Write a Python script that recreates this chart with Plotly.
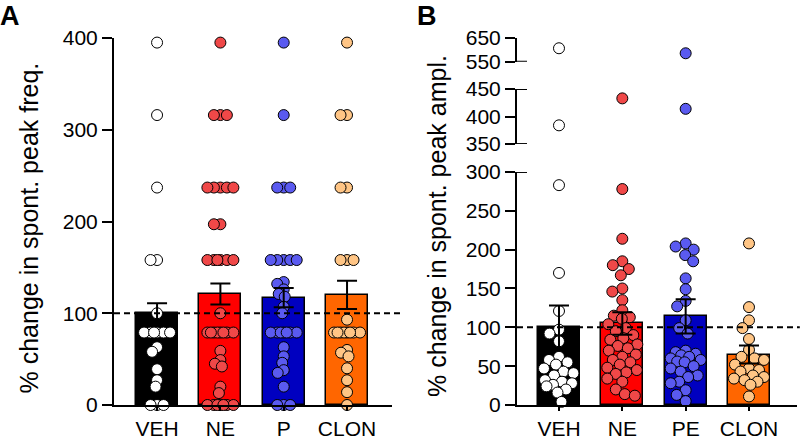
import numpy as np
import plotly.graph_objects as go

# ---------------- data ----------------
categories_A = ["VEH", "NE", "P", "CLON"]
categories_B = ["VEH", "NE", "PE", "CLON"]

# Panel A: % change in spontaneous peak frequency (individual cells)
veh_A = [395, 316, 237, 158, 158, 100, 79, 79, 79, 79, 79, 79, 63, 58, 39, 27, 20, 0, 0, 0]
ne_A = [395, 316, 316, 316, 237, 237, 237, 237, 237, 197, 197,
        158, 158, 158, 158, 158, 158, 100, 79, 79, 79, 79, 79, 79, 79, 79,
        59, 49, 45, 42, 20, 13, 0, 0, 0, 0, 0, 0, 0]
p_A = [395, 316, 237, 237, 237, 158, 158, 158, 158, 158, 134, 132, 126, 121, 118,
       107, 100, 79, 79, 79, 79, 79, 79, 79, 63, 53, 46, 38, 35, 20, 0, 0, 0]
clon_A = [395, 316, 316, 237, 237, 158, 158, 158, 93, 79, 79, 79, 79, 79, 79, 79, 79,
          60, 57, 53, 40, 27, 14, 0]
mean_A = [100, 121, 117, 120]
sem_A = [11, 11.5, 10.5, 15.5]

# Panel B: % change in spontaneous peak amplitude
veh_B = [607, 384, 283, 170, 121, 97, 92, 82, 62, 58, 55, 52, 47, 43, 41, 38,
         32, 30, 28, 26, 24, 20, 16, 4]
ne_B = [433, 278, 214, 185, 180, 175, 167, 150, 146, 135, 122, 115, 113, 111, 104,
        99, 95, 90, 86, 84, 78, 76, 73, 70, 65, 62, 58, 55, 52, 48, 45, 42, 40,
        34, 30, 20, 14, 12]
pe_B = [586, 414, 208, 204, 200, 193, 185, 163, 149, 134, 127, 109, 99, 92, 70, 68,
        66, 64, 62, 60, 58, 56, 55, 50, 47, 43, 38, 36, 30, 28, 19, 13, 5]
clon_B = [208, 126, 109, 99, 85, 71, 62, 60, 58, 52, 47, 45, 43, 38, 36, 34, 32,
          30, 26, 11]
mean_B = [100, 105, 114, 65]
sem_B = [28, 14.5, 22, 11.7]

y_ticks_A = [0, 100, 200, 300, 400]
y_ticks_B_low = [0, 50, 100, 150, 200, 250, 300]
y_ticks_B_mid = [350, 400, 450]
y_ticks_B_top = [550, 650]

bar_colors = ["#000000", "#FF0000", "#0000C0", "#FF6600"]
point_colors = ["#FFFFFF", "#F04848", "#5A5AF0", "#FFC585"]

# ---------------- geometry ----------------
W, H = 800, 438
ML, MR, MT, MB = 114, 3, 38, 33
PW = W - ML - MR
PH = H - MT - MB

XA_DOM = [0, 278 / PW]
XB_DOM = [403 / PW, 1.0]
XA_RANGE = [-0.68, 3.71]
XB_RANGE = [-0.663, 3.758]
YA_RANGE = [0, 400]
SEGS = [("y2", [0.0, 0.635], [0, 300]),
        ("y3", [0.711, 0.861], [350, 450]),
        ("y4", [0.935, 1.0], [550, 650])]

FONT = "Arial, Liberation Sans, Helvetica, sans-serif"
BAR_W = 0.66


def ypx_A(v):
    return (v - YA_RANGE[0]) / (YA_RANGE[1] - YA_RANGE[0]) * PH


def seg_of(v):
    for name, dom, rng in SEGS:
        if v <= rng[1]:
            return name, dom, rng
    return SEGS[-1]


def ypx_B(v):
    name, dom, rng = seg_of(v)
    return (dom[0] + (v - rng[0]) / (rng[1] - rng[0]) * (dom[1] - dom[0])) * PH


def swarm(values, ypx, px_per_unit, half_width=14.0, diam=11.0):
    vals = np.asarray(values, float)
    ys = np.array([ypx(v) for v in vals])
    xs = np.zeros(len(vals))
    order = np.argsort(-vals, kind="stable")
    cands = np.arange(-half_width, half_width + 0.01, 0.5)
    cands = cands[np.argsort(np.abs(cands), kind="stable")]
    placed = []
    for i in order:
        if placed:
            px = xs[placed]
            dy = ys[i] - ys[placed]
            d = np.sqrt((cands[:, None] - px[None, :]) ** 2 + dy[None, :] ** 2).min(axis=1)
            ok = np.where(d >= diam)[0]
            xs[i] = cands[ok[0]] if len(ok) else cands[np.argmax(d)]
        placed.append(i)
    return xs / px_per_unit


pxu_A = (XA_DOM[1] - XA_DOM[0]) * PW / (XA_RANGE[1] - XA_RANGE[0])
pxu_B = (XB_DOM[1] - XB_DOM[0]) * PW / (XB_RANGE[1] - XB_RANGE[0])

fig = go.Figure()

# ---------- Panel A ----------
groups_A = [veh_A, ne_A, p_A, clon_A]
fig.add_trace(go.Bar(x=list(range(4)), y=mean_A, width=BAR_W,
                     marker=dict(color=bar_colors, line=dict(color="black", width=1.5)),
                     xaxis="x", yaxis="y", showlegend=False, hoverinfo="skip"))
for gi, vals in enumerate(groups_A):
    off = swarm(vals, ypx_A, pxu_A, half_width=14.0, diam=6.5)
    fig.add_trace(go.Scatter(x=gi + off, y=vals, mode="markers", xaxis="x", yaxis="y",
                             cliponaxis=False, showlegend=False,
                             marker=dict(size=11, color=point_colors[gi],
                                         line=dict(color="black", width=1))))
fig.add_trace(go.Scatter(x=list(range(4)), y=mean_A, mode="markers", xaxis="x", yaxis="y",
                         marker=dict(size=1, color="rgba(0,0,0,0)"), showlegend=False,
                         error_y=dict(type="data", array=sem_A, color="black",
                                      thickness=2, width=10)))

# ---------- Panel B ----------
groups_B = [veh_B, ne_B, pe_B, clon_B]
fig.add_trace(go.Bar(x=list(range(4)), y=mean_B, width=BAR_W,
                     marker=dict(color=bar_colors, line=dict(color="black", width=1.5)),
                     xaxis="x2", yaxis="y2", showlegend=False, hoverinfo="skip"))
for gi, vals in enumerate(groups_B):
    off = swarm(vals, ypx_B, pxu_B, half_width=15.0, diam=10.0)
    for name, dom, rng in SEGS:
        idx = [k for k, v in enumerate(vals) if seg_of(v)[0] == name]
        if not idx:
            continue
        fig.add_trace(go.Scatter(x=[gi + off[k] for k in idx], y=[vals[k] for k in idx],
                                 mode="markers", xaxis="x2", yaxis=name,
                                 cliponaxis=False, showlegend=False,
                                 marker=dict(size=11, color=point_colors[gi],
                                             line=dict(color="black", width=1))))
fig.add_trace(go.Scatter(x=list(range(4)), y=mean_B, mode="markers", xaxis="x2", yaxis="y2",
                         marker=dict(size=1, color="rgba(0,0,0,0)"), showlegend=False,
                         error_y=dict(type="data", array=sem_B, color="black",
                                      thickness=2, width=10)))

# ---------- axes ----------
ax_common = dict(showline=True, linecolor="black", linewidth=2, ticks="outside",
                 tickcolor="black", tickwidth=2, showgrid=False, zeroline=False,
                 fixedrange=True, automargin=False)

xa = dict(ax_common, ticklen=4, tickfont=dict(size=21, color="black", family=FONT))
ya = dict(ax_common, ticklen=10, tickfont=dict(size=21, color="black", family=FONT))

layout = dict(
    width=W, height=H,
    margin=dict(l=ML, r=MR, t=MT, b=MB, pad=0, autoexpand=False),
    plot_bgcolor="white", paper_bgcolor="white",
    font=dict(family=FONT, color="black"),
    showlegend=False, bargap=0,
    xaxis=dict(xa, domain=XA_DOM, range=XA_RANGE, tickvals=list(range(4)),
               ticktext=categories_A, anchor="y"),
    yaxis=dict(ya, domain=[0, 1], range=YA_RANGE, tickvals=y_ticks_A, anchor="x"),
    xaxis2=dict(xa, domain=XB_DOM, range=XB_RANGE, tickvals=list(range(4)),
                ticktext=categories_B, anchor="y2"),
)
tick_sets = {"y2": y_ticks_B_low, "y3": y_ticks_B_mid, "y4": y_ticks_B_top}
for name, dom, rng in SEGS:
    key = "yaxis" + name[1:]
    layout[key] = dict(ya, domain=dom, range=rng, tickvals=tick_sets[name], anchor="x2")

fig.update_layout(**layout)

# dashed reference lines at 100 %
fig.add_shape(type="line", xref="x domain", yref="y", x0=0, x1=1.03, y0=100, y1=100,
              line=dict(color="black", width=2, dash="6px,4px"))
fig.add_shape(type="line", xref="x2 domain", yref="y2", x0=0, x1=1.01, y0=100, y1=100,
              line=dict(color="black", width=2, dash="6px,4px"))

# axis-break marks (short ticks extending inside at each segment end)
brk = 10 / ((XB_DOM[1] - XB_DOM[0]) * PW)
for yref, yv in [("y2", 300), ("y3", 350), ("y3", 450), ("y4", 550)]:
    fig.add_shape(type="line", xref="x2 domain", yref=yref, x0=0, x1=brk, y0=yv, y1=yv,
                  line=dict(color="black", width=2))

# titles and panel letters
def px_x(px):
    return (px - ML) / PW


def px_y(py):
    return (H - MB - py) / PH


fig.add_annotation(text="% change in spont. peak freq.", xref="paper", yref="paper",
                   x=px_x(28.5), y=px_y(228), textangle=-90, showarrow=False,
                   xanchor="center", yanchor="middle", font=dict(size=25, family=FONT))
fig.add_annotation(text="% change in spont. peak ampl.", xref="paper", yref="paper",
                   x=px_x(437), y=px_y(226), textangle=-90, showarrow=False,
                   xanchor="center", yanchor="middle", font=dict(size=25, family=FONT))
fig.add_annotation(text="<b>A</b>", xref="paper", yref="paper", x=px_x(-2), y=px_y(-1),
                   showarrow=False, xanchor="left", yanchor="top",
                   font=dict(size=27, family=FONT))
fig.add_annotation(text="<b>B</b>", xref="paper", yref="paper", x=px_x(415), y=px_y(-1),
                   showarrow=False, xanchor="left", yanchor="top",
                   font=dict(size=27, family=FONT))

fig.write_html("out.html",
               config={"displayModeBar": False},
               post_script="document.body.style.margin='0px';"
                           "document.body.style.overflow='hidden';")
